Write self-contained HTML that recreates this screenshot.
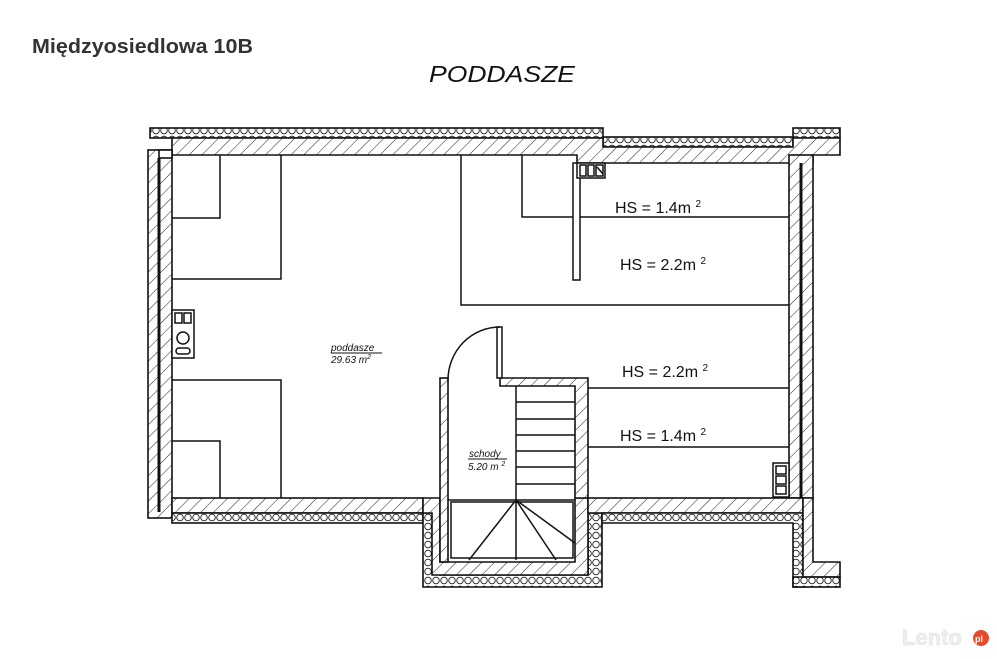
<!DOCTYPE html>
<html><head><meta charset="utf-8"><style>
html,body{margin:0;padding:0;background:#fff;width:997px;height:659px;overflow:hidden}
svg{display:block}
</style></head><body>
<svg width="997" height="659" viewBox="0 0 997 659" xmlns="http://www.w3.org/2000/svg" font-family="Liberation Sans, sans-serif">
<defs>
<pattern id="h" patternUnits="userSpaceOnUse" width="9" height="9" patternTransform="rotate(45)">
<rect width="9" height="9" fill="#fff"/><line x1="0" y1="0" x2="0" y2="9" stroke="#222" stroke-width="1"/>
</pattern>
<pattern id="ins" patternUnits="userSpaceOnUse" width="8" height="9">
<rect width="8" height="9" fill="#fff"/><circle cx="4" cy="4.5" r="3.3" fill="none" stroke="#222" stroke-width="0.9"/>
</pattern>
</defs>
<rect width="997" height="659" fill="#fff"/>
<text x="32" y="53" font-size="20" font-weight="bold" fill="#333" textLength="221" lengthAdjust="spacingAndGlyphs">Międzyosiedlowa 10B</text>
<text x="429" y="82" font-size="23" font-style="italic" fill="#111" textLength="146" lengthAdjust="spacingAndGlyphs">PODDASZE</text>

<g stroke="#111" stroke-width="1.6">
<!-- top insulation -->
<rect x="150" y="128" width="453" height="10" fill="url(#ins)"/>
<rect x="603" y="137" width="190" height="10" fill="url(#ins)"/>
<rect x="793" y="128" width="47" height="10" fill="url(#ins)"/>
<!-- top hatch -->
<polygon points="172,138 603,138 603,147 793,147 793,138 840,138 840,155 813,155 813,163 577,163 577,155 172,155" fill="url(#h)"/>
<!-- left wall -->
<rect x="148" y="150" width="24" height="368" fill="url(#h)"/>
<line x1="159" y1="158" x2="159" y2="512" stroke-width="3"/>
<rect x="159" y="150" width="13" height="8" fill="#fff"/>
<!-- right wall -->
<rect x="789" y="155" width="24" height="343" fill="url(#h)"/>
<line x1="801" y1="163" x2="801" y2="540" stroke-width="3"/>
<!-- bottom left -->
<rect x="172" y="498" width="251" height="15" fill="url(#h)"/>
<rect x="172" y="513" width="251" height="10" fill="url(#ins)"/>
<!-- bump -->
<polygon points="423,513 440,513 440,575 588,575 588,513 602,513 602,587 423,587" fill="url(#ins)"/>
<polygon points="423,498 440,498 440,562 575,562 575,498 588,498 588,513 588,575 440,575 432,575 432,513 423,513" fill="url(#h)"/>
<!-- stairwell walls -->
<rect x="440" y="378" width="8" height="184" fill="url(#h)"/>
<polygon points="500,378 588,378 588,498 575,498 575,386 500,386" fill="url(#h)"/>
<!-- bottom right -->
<rect x="588" y="498" width="215" height="15" fill="url(#h)"/>
<polygon points="602,513 803,513 803,587 793,587 793,523 602,523" fill="url(#ins)"/>
<polygon points="803,498 813,498 813,562 840,562 840,577 803,577" fill="url(#h)"/>
<rect x="793" y="577" width="47" height="10" fill="url(#ins)"/>
</g>
<g stroke="#111" stroke-width="1.5" fill="none">
<!-- interior lines left -->
<polyline points="172,218 220,218 220,155"/>
<polyline points="172,279 281,279 281,155"/>
<polyline points="172,380 281,380 281,498"/>
<polyline points="172,441 220,441 220,498"/>
<!-- right -->
<polyline points="461,155 461,305 789,305"/>
<polyline points="522,155 522,217 789,217"/>
<rect x="573" y="163" width="7" height="117" fill="#fff"/>
<line x1="588" y1="388" x2="789" y2="388"/>
<line x1="588" y1="447" x2="789" y2="447"/>
<!-- door -->
<rect x="497" y="327" width="5" height="51" fill="#fff"/>
<path d="M448,380 A52,53 0 0 1 500,327"/>
<!-- stairs -->
<line x1="516" y1="386" x2="516" y2="500"/>
<line x1="516" y1="402" x2="575" y2="402"/>
<line x1="516" y1="419" x2="575" y2="419"/>
<line x1="516" y1="435" x2="575" y2="435"/>
<line x1="516" y1="451" x2="575" y2="451"/>
<line x1="516" y1="467" x2="575" y2="467"/>
<line x1="516" y1="484" x2="575" y2="484"/>
<line x1="448" y1="500" x2="575" y2="500"/>
<line x1="516" y1="500" x2="469" y2="560"/>
<line x1="516" y1="500" x2="516" y2="560"/>
<line x1="516" y1="500" x2="556" y2="560"/>
<line x1="516" y1="500" x2="575" y2="543"/>
<rect x="451" y="502" width="122" height="56"/>
<!-- chimneys -->
<rect x="577" y="163" width="28" height="15" fill="#fff"/>
<rect x="580" y="165" width="6" height="11"/><rect x="588" y="165" width="6" height="11"/><rect x="596" y="165" width="7" height="11"/>
<line x1="597" y1="167" x2="603" y2="174"/>
<rect x="172" y="310" width="22" height="48" fill="#fff"/>
<rect x="175" y="313" width="7" height="10"/><rect x="184" y="313" width="7" height="10"/>
<circle cx="183" cy="338" r="6"/>
<rect x="176" y="348" width="14" height="6" rx="3"/>
<rect x="773" y="463" width="16" height="34" fill="#fff"/>
<rect x="776" y="466" width="10" height="8"/><rect x="776" y="476" width="10" height="8"/><rect x="776" y="486" width="10" height="8"/>
</g>
<g fill="#111" font-size="16">
<text x="615" y="213">HS = 1.4m <tspan font-size="10" dy="-6">2</tspan></text>
<text x="620" y="270">HS = 2.2m <tspan font-size="10" dy="-6">2</tspan></text>
<text x="622" y="377">HS = 2.2m <tspan font-size="10" dy="-6">2</tspan></text>
<text x="620" y="441">HS = 1.4m <tspan font-size="10" dy="-6">2</tspan></text>
</g>
<g fill="#111" font-size="10" font-style="italic">
<text x="331" y="351">poddasze</text>
<line x1="331" y1="353" x2="382" y2="353" stroke="#111" stroke-width="1"/>
<text x="331" y="363">29.63 m<tspan font-size="7" dy="-4">2</tspan></text>
<text x="469" y="457">schody</text>
<line x1="468" y1="459" x2="507" y2="459" stroke="#111" stroke-width="1"/>
<text x="468" y="470">5.20 m <tspan font-size="7" dy="-4">2</tspan></text>
</g>
<text x="902" y="645" font-size="22" font-weight="bold" fill="#eee" stroke="#ddd" stroke-width="0.5">Lento</text>
<circle cx="981" cy="638" r="8" fill="#e8492a"/>
<text x="975" y="642" font-size="9" font-weight="bold" fill="#fff">pl</text>
</svg>
</body></html>
